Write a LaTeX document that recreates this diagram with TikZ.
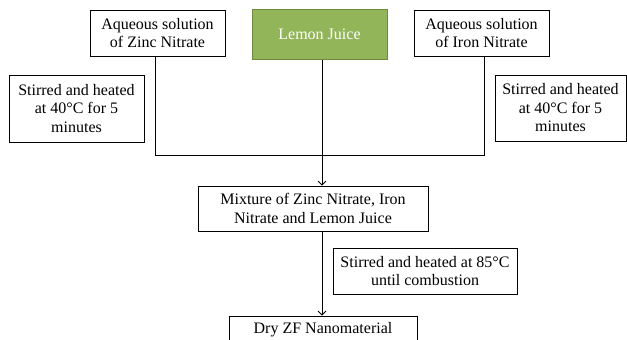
\documentclass[tikz,border=0pt]{standalone}
\usepackage{fontspec}
\setmainfont{Liberation Serif}
\usetikzlibrary{arrows.meta,calc}
\definecolor{leaf}{HTML}{93B55A}
\definecolor{leafedge}{HTML}{71893F}
\begin{document}
\begin{tikzpicture}[x=1pt,y=-1pt,
  every node/.style={font=\fontsize{16}{18.5}\selectfont, align=center, inner sep=0pt},
  box/.style={draw=black, line width=0.8pt, rectangle, fill=white},
  greenbox/.style={draw=leafedge, line width=1pt, rectangle, fill=leaf, text=white},
  conn/.style={draw=black, line width=0.8pt},
  arr/.style={conn, -{Straight Barb[length=4pt,width=8pt]}}]
\useasboundingbox (0,0) rectangle (627,340);
\fill[white] (0,0) rectangle (627,340);

\node[box, minimum width=135pt, minimum height=46pt] (zinc) at (157.5,33) {Aqueous solution\\of Zinc Nitrate};
\node[greenbox, minimum width=135pt, minimum height=50pt] (lemon) at (319.5,34) {Lemon Juice};
\node[box, minimum width=135pt, minimum height=46pt] (iron) at (481.5,33) {Aqueous solution\\of Iron Nitrate};
\node[box, minimum width=135pt, minimum height=67pt] (stirL) at (76.5,108.5) {Stirred and heated\\at 40\textdegree C for 5\\minutes};
\node[box, minimum width=131pt, minimum height=66pt] (stirR) at (560.5,108) {Stirred and heated\\at 40\textdegree C for 5\\minutes};
\node[box, minimum width=230pt, minimum height=45pt] (mix) at (313,208.5) {Mixture of Zinc Nitrate, Iron\\Nitrate and Lemon Juice};
\node[box, minimum width=184pt, minimum height=46pt] (heat) at (425,271) {Stirred and heated at 85\textdegree C\\until combustion};
\node[box, minimum width=188pt, minimum height=28pt] (dry) at (323,330) {Dry ZF Nanomaterial};

\coordinate (jL) at (155,155);
\coordinate (jR) at (484,155);
\coordinate (jM) at (322,155);

\draw[conn] (zinc.south -| jL) -- (jL) -- (jR) -- (iron.south -| jR);
\draw[arr] (lemon.south -| jM) -- (mix.north -| jM);
\draw[arr] (mix.south -| jM) -- (dry.north -| jM);
\end{tikzpicture}
\end{document}
